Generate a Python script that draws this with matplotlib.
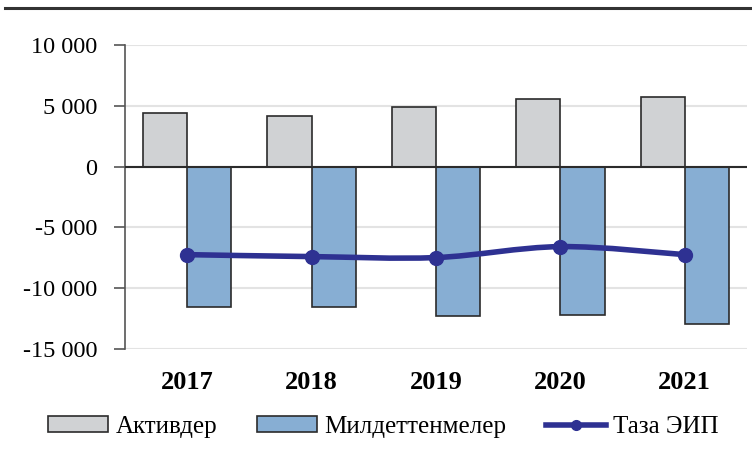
import matplotlib
matplotlib.use("Agg")
import matplotlib.pyplot as plt
import numpy as np
from matplotlib.path import Path
from matplotlib.patches import PathPatch, Patch
from matplotlib.lines import Line2D
from matplotlib.ticker import FuncFormatter

years = ["2017", "2018", "2019", "2020", "2021"]
assets = [4440, 4190, 4930, 5590, 5750]
liabilities = [-11510, -11510, -12250, -12170, -12910]
net = [-7240, -7400, -7480, -6580, -7240]
yticks = [10000, 5000, 0, -5000, -10000, -15000]

plt.rcParams['font.family'] = ['Liberation Serif', 'DejaVu Serif']

fig = plt.figure(figsize=(7.52, 4.68), dpi=100)
ax = fig.add_axes([125/752, 1-349/468, (747-125)/752, (349-45)/468])

x = np.arange(len(years))
w = 0.355
gray = "#d0d2d4"
blue = "#87aed3"
navy = "#2e3192"

ax.bar(x - w/2, assets, w, color=gray, edgecolor="#2b2b2b", linewidth=1.2, zorder=3)
ax.bar(x + w/2, liabilities, w, color=blue, edgecolor="#2b2b2b", linewidth=1.2, zorder=3)

# smooth curve (Catmull-Rom style bezier) through net points
px = x.astype(float)
py = np.array(net, dtype=float)
verts = [(px[0], py[0])]
codes = [Path.MOVETO]
t = 1/6
for i in range(len(px) - 1):
    p0 = (px[i-1], py[i-1]) if i > 0 else (px[i], py[i])
    p1 = (px[i], py[i])
    p2 = (px[i+1], py[i+1])
    p3 = (px[i+2], py[i+2]) if i + 2 < len(px) else p2
    c1 = (p1[0] + (p2[0]-p0[0])*t, p1[1] + (p2[1]-p0[1])*t)
    c2 = (p2[0] - (p3[0]-p1[0])*t, p2[1] - (p3[1]-p1[1])*t)
    verts += [c1, c2, p2]
    codes += [Path.CURVE4]*3
ax.add_patch(PathPatch(Path(verts, codes), facecolor="none", edgecolor=navy, linewidth=4, zorder=4))
ax.plot(px, py, linestyle="none", marker="o", markersize=10, color=navy, zorder=5)

ax.set_xlim(-0.5, len(years) - 0.5)
ax.set_ylim(-15000, 10000)
ax.set_yticks(yticks)
ax.yaxis.set_major_formatter(FuncFormatter(lambda v, p: f"{int(v):,}".replace(",", " ")))
ax.set_xticks(x)
ax.set_xticklabels(years, fontweight="bold", fontsize=19)
ax.tick_params(axis="x", length=0, pad=16)
ax.tick_params(axis="y", labelsize=17.5, length=8, width=1.2, color="#555555", direction="out", pad=12)
ax.grid(axis="y", color="#e3e3e3", linewidth=1.5, zorder=0)
ax.axhline(0, color="#2b2b2b", linewidth=1.5, zorder=3.5)
for s in ["top", "right", "bottom"]:
    ax.spines[s].set_visible(False)
ax.spines["left"].set_color("#555555")
ax.spines["left"].set_linewidth(1.2)

fig.add_artist(Line2D([5/752, 1], [1-8/468, 1-8/468], color="#333333", linewidth=2.2, transform=fig.transFigure))

handles = [
    Patch(facecolor=gray, edgecolor="#2b2b2b", linewidth=1.2),
    Patch(facecolor=blue, edgecolor="#2b2b2b", linewidth=1.2),
    Line2D([0], [0], color=navy, linewidth=4, marker="o", markersize=7),
]
fig.legend(handles, ["Активдер", "Милдеттенмелер", "Таза ЭИП"], loc="center",
           bbox_to_anchor=(383.5/752, 1-427/468), ncol=3, frameon=False, fontsize=18,
           handlelength=2.4, handleheight=0.6, columnspacing=1.6, handletextpad=0.28,
           borderpad=0, borderaxespad=0)

fig.savefig("out.png", dpi=100)
